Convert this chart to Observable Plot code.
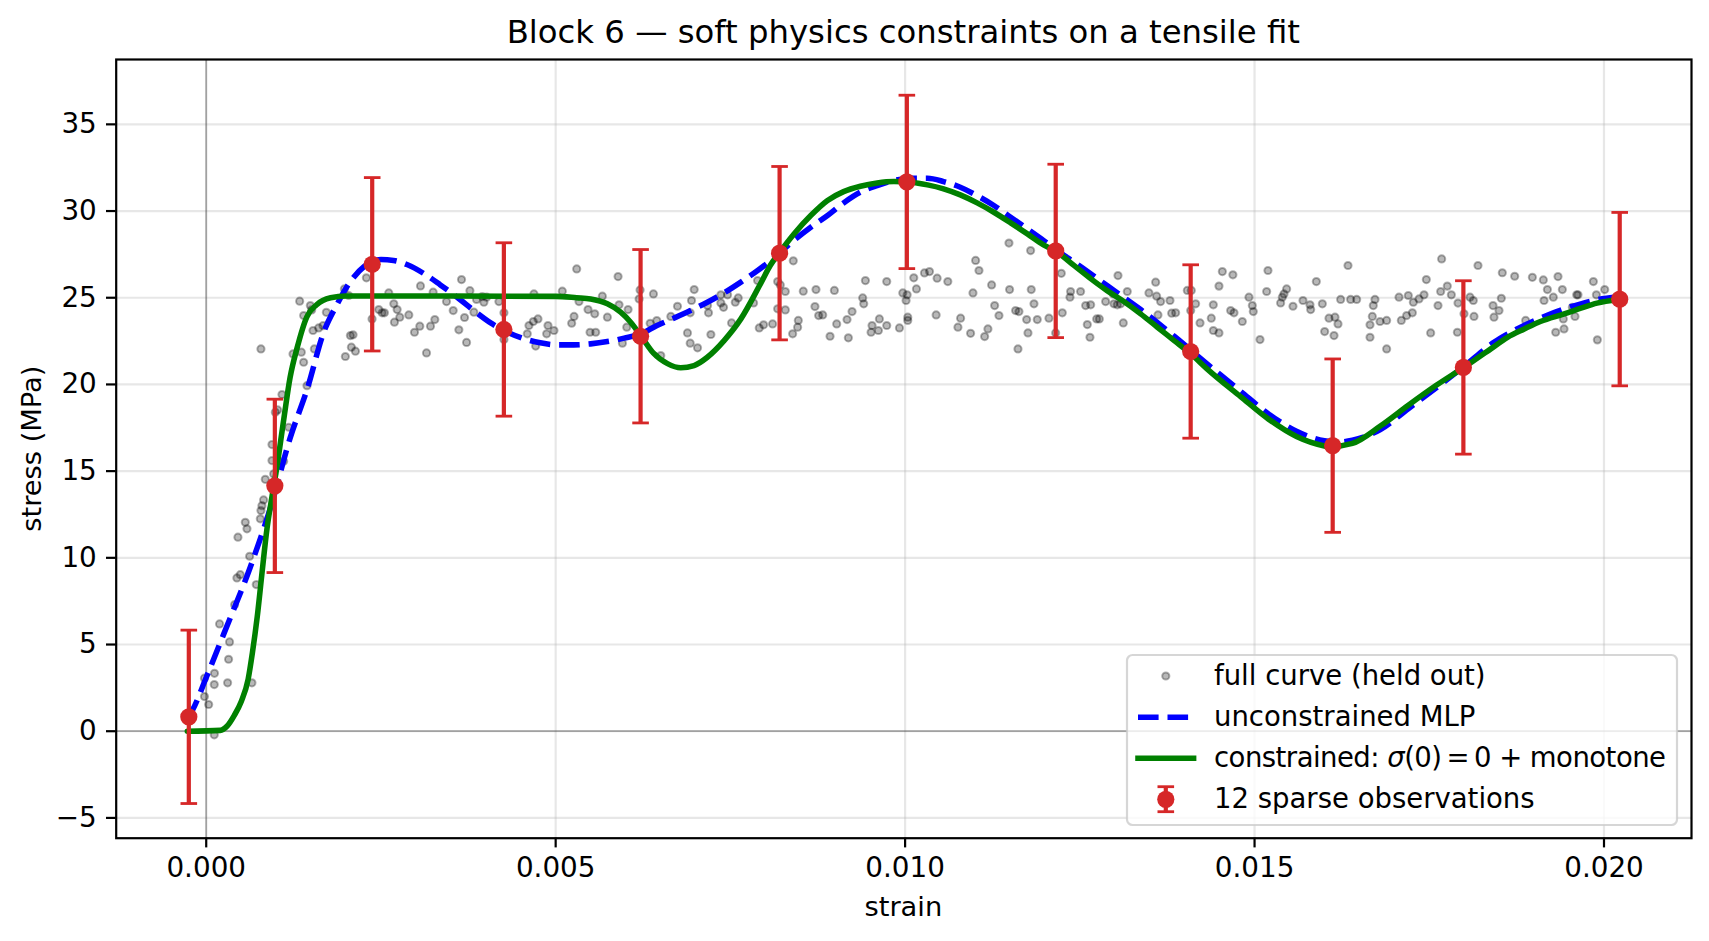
<!DOCTYPE html>
<html>
<head>
<meta charset="utf-8">
<script src="https://cdn.jsdelivr.net/npm/d3@7"></script>
<script src="https://cdn.jsdelivr.net/npm/@observablehq/plot@0.6"></script>
<style>
  body { margin: 0; background: #fff; font-family: "DejaVu Sans", sans-serif; }
  #wrap { position: relative; width: 1709px; height: 941px; overflow: hidden; background: #fff; }
  #title { position: absolute; left: 115.7px; width: 1575.3px; top: 15.9px; height: 32.3px; line-height: 32.3px;
           font-size: 32.3px; text-align: center; color: #000; white-space: nowrap; }
  #xlabel { position: absolute; left: 115.7px; width: 1575.3px; top: 892.6px; height: 27.3px; line-height: 27.3px;
            font-size: 27.3px; text-align: center; color: #000; white-space: nowrap; }
  #ylabel { position: absolute; left: -167.7px; top: 434.7px; width: 400px; height: 27.3px; line-height: 27.3px;
            font-size: 27.3px; text-align: center; color: #000; white-space: nowrap; transform: rotate(-90deg); }
  #legend { position: absolute; left: 0; top: 0; pointer-events: none; }
  #legend text { font-family: "DejaVu Sans", sans-serif; font-size: 27.5px; fill: #000; }
</style>
</head>
<body>
<div id="wrap"></div>
<script>
// ---------- data ----------
const xTicks = [0, 0.005, 0.010, 0.015, 0.020];
const yTicks = [-5, 0, 5, 10, 15, 20, 25, 30, 35];

// full curve (held out) – strain
const fullStrain = [
  0.000115,0.000035,-0.000025,0.000115,-0.000025,0.000118,0.000306,0.000654,0.000320,0.000334,
  0.000191,0.000406,0.000439,0.000487,0.000716,0.000621,0.000454,0.000559,0.000583,0.000774,
  0.000783,0.000797,0.000821,0.000845,0.000965,0.000941,0.001108,0.000941,0.000989,0.001022,
  0.001180,0.001084,0.001442,0.000783,0.001242,0.001361,0.001394,0.001547,0.001337,0.001394,
  0.001490,0.001509,0.001528,0.001609,0.001671,0.001719,
  0.001977,0.002039,0.002292,0.001991,0.002063,0.002101,0.002077,0.002135,0.002373,0.002469,
  0.002517,0.002550,0.002612,0.002684,0.002732,0.002770,0.002693,0.002899,0.002980,0.003056,
  0.003066,0.003152,0.003209,0.003271,0.003247,0.003438,0.003534,0.003615,0.003653,0.003696,
  0.003725,0.003773,0.003830,0.003868,0.003949,0.003973,0.004012,0.004188,0.004260,0.004260,
  0.004594,0.004618,0.004680,0.004747,0.004714,0.004689,0.004871,0.004890,0.004976,0.005095,
  0.005229,0.005263,0.005301,0.005334,0.005463,0.005559,0.005492,0.005573,0.005668,0.005740,
  0.005893,0.005907,0.005955,0.006017,0.006036,0.006208,0.006194,
  0.006399,0.006352,0.006447,0.006504,0.006648,0.006743,0.006886,0.006925,0.007030,0.006925,
  0.006944,0.006982,0.007187,0.007173,0.007221,0.007364,0.007364,0.007402,0.007460,0.007517,
  0.007570,0.007612,0.007832,0.007889,0.007913,0.007975,0.008104,0.008176,0.008214,0.008176,
  0.008286,0.008286,0.008400,0.008391,0.008462,0.008472,0.008543,0.008710,0.008725,0.008763,
  0.008821,0.008926,0.008988,0.009021,0.009169,0.009188,0.009241,0.009393,0.009408,0.009432,
  0.009513,0.009527,0.009618,0.009632,0.009737,0.009737,0.009919,0.009967,0.010029,0.010014,
  0.010038,0.010038,0.010124,0.010162,0.010277,0.010349,0.010458,0.010444,0.010611,
  0.010971,0.011009,0.011057,0.011238,0.011281,0.011343,0.010794,0.010756,0.010937,0.011138,
  0.011185,0.011486,0.011495,0.011581,0.011629,0.011615,0.011739,0.011758,0.011796,0.011805,
  0.011844,0.011891,0.012058,0.012154,0.012235,0.012249,0.012368,0.012359,0.012511,0.012583,
  0.012655,0.012607,0.012645,0.012741,0.012779,0.012869,0.012988,0.013036,0.013084,0.012979,
  0.013046,0.013122,0.013179,0.013489,0.013585,0.013599,0.013656,0.013790,0.013618,0.013814,
  0.013871,0.014038,0.014095,0.014086,0.014157,0.014220,0.014381,0.014410,0.014410,0.014491,
  0.014539,0.014491,0.014690,0.014658,0.014706,0.014825,0.014920,
  0.014968,0.014982,0.015078,0.015173,0.015192,0.015373,0.015397,0.015421,0.015459,0.015550,
  0.015693,0.015793,0.015803,0.015884,0.015970,0.016003,0.016065,0.016151,0.016194,0.016137,
  0.016232,0.016337,0.016375,0.016461,0.016652,0.016652,0.016685,0.016699,0.016723,0.016795,
  0.016890,0.016890,0.017067,0.017100,0.017176,0.017258,0.017200,0.017272,0.017353,0.017425,
  0.017458,0.017520,0.017625,0.017663,0.017677,0.017758,0.017816,0.017902,0.017911,0.017997,
  0.018083,0.018130,0.018140,0.018197,0.018412,0.018426,0.018498,0.018531,0.018545,0.018722,
  0.018879,0.018975,0.019132,0.019142,0.019190,
  0.019275,0.019342,0.019404,0.019609,0.019628,0.019547,0.019418,0.019585,0.019309,0.019428,
  0.019848,0.019891,0.020010,0.019905
];
// full curve (held out) – stress (MPa)
const fullStress = [
  -0.21,1.54,2.00,2.69,3.06,3.34,2.79,2.79,4.15,5.15,
  6.19,7.30,8.84,9.03,8.46,10.09,11.19,12.05,11.67,12.25,
  12.73,13.01,13.34,14.53,14.84,15.61,15.57,16.53,18.40,18.53,
  17.53,19.42,19.93,22.05,21.76,21.86,21.28,22.05,24.80,23.97,
  24.55,24.30,23.11,23.26,23.39,24.16,
  25.51,25.13,26.15,21.61,22.82,22.86,22.15,21.92,23.78,24.32,
  24.13,24.13,25.28,24.65,24.32,23.88,23.59,24.01,23.01,23.36,
  25.68,21.82,23.36,23.74,25.32,24.78,24.26,23.15,26.05,23.86,
  22.42,25.41,24.17,24.90,25.07,24.74,25.03,24.78,24.13,22.59,
  22.92,23.40,23.63,23.78,22.21,25.22,22.92,23.40,23.11,25.38,
  23.53,23.92,26.66,24.78,24.32,24.07,23.01,23.01,25.09,23.88,
  26.22,24.59,22.38,23.30,24.32,25.45,24.93,
  25.22,23.53,23.68,21.67,23.92,24.51,22.97,22.38,22.11,24.13,
  24.84,25.47,24.13,24.55,22.88,25.17,24.70,24.45,25.17,23.55,
  24.74,24.99,24.70,25.99,23.26,23.44,23.49,25.93,25.74,24.36,
  24.30,25.36,27.13,22.92,23.30,23.69,25.38,24.49,25.47,23.97,
  24.01,22.78,25.42,23.49,23.74,22.69,24.20,24.99,24.65,25.99,
  23.01,23.40,23.11,23.78,25.93,23.40,23.26,25.28,25.17,24.84,
  23.88,23.69,26.15,25.51,26.43,26.51,26.13,24.01,25.93,
  25.28,27.15,26.57,25.74,24.55,23.97,23.82,23.30,22.95,22.76,
  23.20,28.15,25.47,24.26,24.20,22.05,23.74,22.97,27.72,25.47,
  24.65,23.74,23.82,22.97,26.41,24.13,25.36,25.03,25.36,24.55,
  24.59,23.45,22.72,23.78,23.78,24.78,24.65,24.59,24.65,25.22,
  26.28,23.55,25.36,25.28,25.90,25.09,24.78,24.84,24.01,24.11,
  24.13,25.42,25.42,24.26,24.65,23.55,23.82,24.59,23.11,22.97,
  26.51,25.67,26.32,24.26,24.13,23.63,25.03,
  24.55,24.20,22.59,25.36,26.57,24.70,25.03,25.22,25.51,24.51,
  24.84,24.59,24.32,25.93,24.65,23.05,23.82,23.88,23.49,22.82,
  24.90,26.86,24.90,24.90,22.72,23.44,23.92,24.55,24.90,23.63,
  23.69,22.05,25.03,23.69,23.97,24.13,25.13,24.74,24.93,25.17,
  26.05,22.97,24.55,25.36,27.24,25.67,25.17,23.01,24.69,24.07,
  25.03,24.84,23.92,26.86,24.55,23.88,24.26,24.97,26.44,26.24,
  23.69,26.18,26.03,24.84,25.47,
  25.03,26.22,25.47,25.17,25.17,24.45,23.78,23.92,23.01,23.20,
  25.93,25.17,25.47,22.57
];

// unconstrained MLP
const mlpStrain = [
  -0.00027,-0.00020,0.00000,0.00025,0.00063,0.00092,0.00120,0.00145,0.00168,0.00187,
  0.00204,0.00226,0.00250,0.00268,0.00288,0.00312,0.00335,0.00359,0.00383,0.00407,
  0.00431,0.00455,0.00478,0.00502,0.00526,0.00550,0.00574,0.00598,0.00622,0.00645,
  0.00669,0.00693,0.00717,0.00741,0.00765,0.00789,0.00812,0.00836,0.00865,0.00889,
  0.00912,0.00936,0.00960,0.00984,0.01008,0.01032,0.01055,0.01079,0.01103,0.01127,
  0.01151,0.01175,0.01198,0.01222,0.01242,0.01289,0.01337,0.01385,0.01432,0.01480,
  0.01520,0.01560,0.01600,0.01620,0.01640,0.01680,0.01720,0.01760,0.01800,0.01843,
  0.01867,0.01890,0.01924,0.01943,0.01967,0.01990,0.02020
];
const mlpStress = [
  0.75,1.19,3.10,5.60,9.46,12.90,16.90,19.80,23.00,24.60,
  25.80,26.80,27.20,27.15,26.90,26.38,25.74,25.03,24.26,23.55,
  23.01,22.63,22.40,22.28,22.28,22.34,22.47,22.67,22.92,23.40,
  23.82,24.26,24.74,25.28,25.90,26.57,27.28,28.15,29.07,29.74,
  30.47,31.09,31.47,31.76,31.89,31.89,31.70,31.37,30.89,30.32,
  29.64,28.97,28.30,27.59,27.05,25.70,24.32,22.78,21.19,19.60,
  18.30,17.30,16.75,16.68,16.78,17.40,18.60,19.80,21.05,22.44,
  23.01,23.49,24.07,24.36,24.65,24.88,25.05
];

// constrained: sigma(0)=0 + monotone
const conStrain = [
  -0.00027,0.00020,0.00030,0.00040,0.00050,0.00060,0.00066,0.00073,0.00080,0.00087,
  0.00094,0.00101,0.00111,0.00120,0.00130,0.00144,0.00158,0.00178,0.00200,0.00350,
  0.00500,0.00530,0.00550,0.00574,0.00593,0.00607,0.00622,0.00640,0.00660,0.00679,
  0.00698,0.00717,0.00741,0.00765,0.00793,0.00807,0.00820,0.00841,0.00865,0.00889,
  0.00912,0.00936,0.00960,0.00984,0.01008,0.01032,0.01055,0.01079,0.01103,0.01127,
  0.01151,0.01175,0.01198,0.01215,0.01242,0.01266,0.01289,0.01313,0.01337,0.01361,
  0.01385,0.01409,0.01432,0.01480,0.01520,0.01560,0.01600,0.01606,0.01640,0.01680,
  0.01720,0.01760,0.01800,0.01814,0.01838,0.01862,0.01886,0.01909,0.01943,0.01967,
  0.01990,0.02020
];
const conStress = [
  0.00,0.05,0.30,0.90,1.70,3.00,4.50,6.60,9.20,11.70,
  13.50,15.20,18.00,20.40,22.10,23.90,24.60,25.00,25.10,25.10,
  25.08,25.00,24.93,24.65,24.17,23.60,22.80,21.80,21.20,20.96,
  21.09,21.57,22.53,23.78,25.80,26.86,27.59,28.68,29.74,30.61,
  31.12,31.43,31.62,31.70,31.66,31.51,31.28,30.93,30.47,29.93,
  29.32,28.68,28.05,27.70,26.85,26.09,25.41,24.78,24.07,23.30,
  22.53,21.76,20.90,19.30,18.00,17.00,16.45,16.40,16.60,17.60,
  18.80,19.95,21.00,21.38,22.05,22.72,23.20,23.63,24.07,24.40,
  24.69,24.88
];

// 12 sparse observations
const obsStrain = [-0.000249,0.000982,0.002375,0.004259,0.006215,0.008204,0.010025,0.012155,0.014086,0.016118,0.017988,0.020225];
const obsStress = [0.83,14.15,26.93,23.17,22.78,27.57,31.68,27.70,21.90,16.47,20.98,24.92];
const obsErr    = [5,5,5,5,5,5,5,5,5,5,5,5];

// ---------- tables ----------
const full = fullStrain.map((s, i) => ({strain: s, stress: fullStress[i]}));
const mlp  = mlpStrain.map((s, i) => ({strain: s, stress: mlpStress[i]}));
const con  = conStrain.map((s, i) => ({strain: s, stress: conStress[i]}));
const obs  = obsStrain.map((s, i) => ({strain: s, stress: obsStress[i], err: obsErr[i]}));

// horizontal cap symbol for error bars
const capSymbol = {
  draw(context, size) {
    const h = Math.sqrt(size / Math.PI);
    context.moveTo(-h, 0);
    context.lineTo(h, 0);
  }
};

const red = "#d62728";
const chart = Plot.plot({
  width: 1709,
  height: 941,
  marginLeft: 115.7,
  marginRight: 18,
  marginTop: 59,
  marginBottom: 103.3,
  style: {fontFamily: "'DejaVu Sans', sans-serif", fontSize: "27.8px", background: "#fff", color: "#000"},
  x: {domain: [-0.001288, 0.021252]},
  y: {domain: [-6.17, 38.74]},
  marks: [
    Plot.gridX(xTicks, {stroke: "#b0b0b0", strokeOpacity: 0.3, strokeWidth: 2.2}),
    Plot.gridY(yTicks, {stroke: "#b0b0b0", strokeOpacity: 0.3, strokeWidth: 2.2}),
    Plot.ruleX([0], {stroke: "#000", strokeOpacity: 0.3, strokeWidth: 1.7}),
    Plot.ruleY([0], {stroke: "#000", strokeOpacity: 0.3, strokeWidth: 1.7}),
    Plot.dot(full, {x: "strain", y: "stress", r: 3.6, fill: "#000", fillOpacity: 0.28,
                    stroke: "#000", strokeOpacity: 0.3, strokeWidth: 2.0}),
    Plot.line(mlp, {x: "strain", y: "stress", stroke: "blue", strokeWidth: 5.56,
                    strokeDasharray: "20.6 8.9", strokeLinecap: "butt", curve: "monotone-x"}),
    Plot.line(con, {x: "strain", y: "stress", stroke: "green", strokeWidth: 5.56, curve: "monotone-x"}),
    Plot.ruleX(obs, {x: "strain", y1: d => d.stress - d.err, y2: d => d.stress + d.err,
                     stroke: red, strokeWidth: 4.2}),
    Plot.dot(obs, {x: "strain", y: d => d.stress + d.err, symbol: capSymbol, r: 8.3,
                   fill: "none", stroke: red, strokeWidth: 2.8}),
    Plot.dot(obs, {x: "strain", y: d => d.stress - d.err, symbol: capSymbol, r: 8.3,
                   fill: "none", stroke: red, strokeWidth: 2.8}),
    Plot.dot(obs, {x: "strain", y: "stress", r: 8.6, fill: red}),
    Plot.frame({stroke: "#000", strokeWidth: 2.2}),
    Plot.axisX({ticks: xTicks, tickFormat: d3.format(".3f"), tickSize: 9.7, tickPadding: 9.7,
                strokeWidth: 2.2, fontSize: 27.8, label: null}),
    Plot.axisY({ticks: yTicks, tickFormat: d => d < 0 ? "\u2212" + (-d) : String(d),
                tickSize: 9.7, tickPadding: 9.7, strokeWidth: 2.2, fontSize: 27.8, label: null})
  ]
});

const wrap = document.getElementById("wrap");
wrap.appendChild(chart);

// title & axis labels
const title = document.createElement("div");
title.id = "title";
title.textContent = "Block 6 \u2014 soft physics constraints on a tensile fit";
wrap.appendChild(title);

const xl = document.createElement("div");
xl.id = "xlabel";
xl.textContent = "strain";
wrap.appendChild(xl);

const yl = document.createElement("div");
yl.id = "ylabel";
yl.textContent = "stress (MPa)";
wrap.appendChild(yl);

// legend (lower right, semi-transparent frame)
const ns = "http://www.w3.org/2000/svg";
const leg = document.createElementNS(ns, "svg");
leg.setAttribute("id", "legend");
leg.setAttribute("width", 1709);
leg.setAttribute("height", 941);
leg.innerHTML = `
  <rect x="1127" y="655" width="550" height="170" rx="5.6" ry="5.6" fill="#fff" fill-opacity="0.8"
        stroke="#cccccc" stroke-opacity="0.8" stroke-width="2.2"/>
  <circle cx="1165.8" cy="676" r="3.6" fill="#000" fill-opacity="0.28" stroke="#000" stroke-opacity="0.3" stroke-width="2.0"/>
  <line x1="1138" x2="1193.6" y1="717.3" y2="717.3" stroke="blue" stroke-width="5.56" stroke-dasharray="20.6 8.9"/>
  <line x1="1138" x2="1193.6" y1="758.3" y2="758.3" stroke="green" stroke-width="5.56" stroke-linecap="square"/>
  <line x1="1165.8" x2="1165.8" y1="786.7" y2="811.7" stroke="${red}" stroke-width="4.2"/>
  <line x1="1157.5" x2="1174.1" y1="786.7" y2="786.7" stroke="${red}" stroke-width="2.8"/>
  <line x1="1157.5" x2="1174.1" y1="811.7" y2="811.7" stroke="${red}" stroke-width="2.8"/>
  <circle cx="1165.8" cy="799.3" r="8.6" fill="${red}"/>
  <text x="1214" y="685.1">full curve (held out)</text>
  <text x="1214" y="726.2">unconstrained MLP</text>
  <text x="1214" y="767.2" textLength="452" lengthAdjust="spacing">constrained: <tspan font-style="italic">\u03c3</tspan>(0)\u2009=\u20090 + monotone</text>
  <text x="1214" y="808.3">12 sparse observations</text>
`;
wrap.appendChild(leg);
</script>
</body>
</html>
